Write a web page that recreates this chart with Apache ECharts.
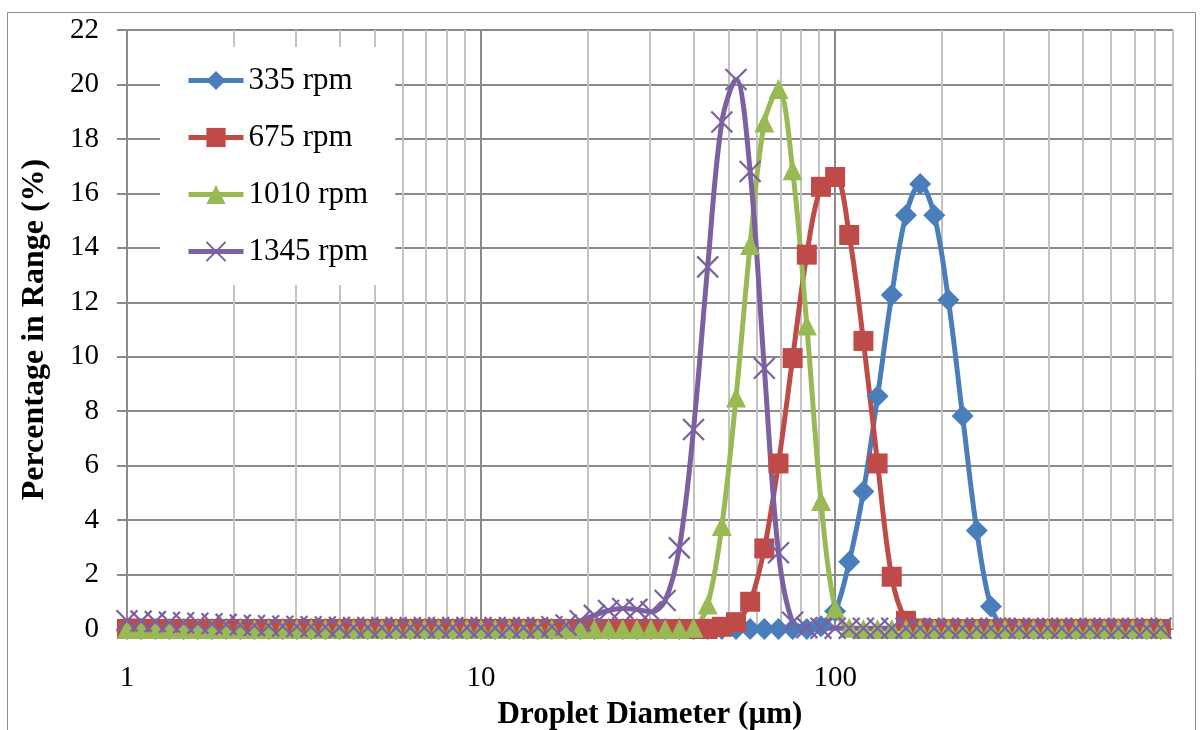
<!DOCTYPE html>
<html>
<head>
<meta charset="utf-8">
<script src="https://cdn.jsdelivr.net/npm/echarts@6/dist/echarts.min.js"></script>
<style>
  html, body { margin: 0; padding: 0; background: #ffffff; }
  #chart { width: 1203px; height: 730px; }
</style>
</head>
<body>
<div id="chart"></div>
<script>
// Size classes (µm), 25 per decade
const diameters = [
  1, 1.096, 1.202, 1.318, 1.445, 1.585, 1.738, 1.905, 2.089, 2.291,
  2.512, 2.754, 3.020, 3.311, 3.631, 3.981, 4.365, 4.786, 5.248, 5.754,
  6.310, 6.918, 7.586, 8.318, 9.120, 10, 10.96, 12.02, 13.18, 14.45,
  15.85, 17.38, 19.05, 20.89, 22.91, 25.12, 27.54, 30.20, 33.11, 36.31,
  39.81, 43.65, 47.86, 52.48, 57.54, 63.10, 69.18, 75.86, 83.18, 91.20,
  100, 109.6, 120.2, 131.8, 144.5, 158.5, 173.8, 190.5, 208.9, 229.1,
  251.2, 275.4, 302.0, 331.1, 363.1, 398.1, 436.5, 478.6, 524.8, 575.4,
  631.0, 691.8, 758.6, 831.8
];

// Percentage in range for each stirring speed
const rpm335 = [
  0, 0, 0, 0, 0, 0, 0, 0, 0, 0,
  0, 0, 0, 0, 0, 0, 0, 0, 0, 0,
  0, 0, 0, 0, 0, 0, 0, 0, 0, 0,
  0, 0, 0, 0, 0, 0, 0, 0, 0, 0,
  0, 0, 0, 0, 0, 0, 0, 0, 0, 0.1,
  0.65, 2.47, 5.05, 8.55, 12.27, 15.2, 16.34, 15.2, 12.08, 7.82,
  3.62, 0.83, 0.05, 0, 0, 0, 0, 0, 0, 0,
  0, 0, 0, 0
];
const rpm675 = [
  0, 0, 0, 0, 0, 0, 0, 0, 0, 0,
  0, 0, 0, 0, 0, 0, 0, 0, 0, 0,
  0, 0, 0, 0, 0, 0, 0, 0, 0, 0,
  0, 0, 0, 0, 0, 0, 0, 0, 0, 0,
  0, 0, 0.08, 0.25, 1.0, 2.96, 6.08, 9.95, 13.75, 16.24,
  16.6, 14.47, 10.58, 6.08, 1.92, 0.3, 0.02, 0, 0, 0,
  0, 0, 0, 0, 0, 0, 0, 0, 0, 0,
  0, 0, 0, 0
];
const rpm1010 = [
  0, 0, 0, 0, 0, 0, 0, 0, 0, 0,
  0, 0, 0, 0, 0, 0, 0, 0, 0, 0,
  0, 0, 0, 0, 0, 0, 0, 0, 0, 0,
  0, 0, 0, 0, 0, 0, 0, 0, 0, 0,
  0.05, 0.9, 3.78, 8.5, 14.1, 18.6, 19.83, 16.85, 11.15, 4.7,
  0.75, 0.05, 0, 0, 0, 0, 0, 0, 0, 0,
  0, 0, 0, 0, 0, 0, 0, 0, 0, 0,
  0, 0, 0, 0
];
const rpm1345 = [
  0.3, 0.29, 0.27, 0.25, 0.23, 0.21, 0.19, 0.17, 0.15, 0.13,
  0.12, 0.1, 0.09, 0.08, 0.07, 0.06, 0.05, 0.05, 0.05, 0.05,
  0.05, 0.05, 0.05, 0.05, 0.05, 0.05, 0.05, 0.05, 0.05, 0.05,
  0.08, 0.15, 0.3, 0.5, 0.68, 0.75, 0.72, 0.63, 1.05, 2.98,
  7.33, 13.3, 18.62, 20.18, 16.8, 9.58, 2.8, 0.25, 0.05, 0.03,
  0.03, 0.03, 0.03, 0.03, 0.03, 0.03, 0.03, 0.03, 0.03, 0.03,
  0.03, 0.03, 0.03, 0.03, 0.03, 0.03, 0.03, 0.03, 0.03, 0.03,
  0.03, 0.03, 0.03, 0.03
];

const seriesNames = ['335 rpm', '675 rpm', '1010 rpm', '1345 rpm'];
// Intermediate log gridlines (2..9 of each decade)
const minorGridValues = [2, 3, 4, 5, 6, 7, 8, 9, 20, 30, 40, 50, 60, 70, 80, 90,
  200, 300, 400, 500, 600, 700, 800, 900];

const FONT = 'Liberation Serif';
const AXIS_GRAY = '#8a8a8a';
const LINE_WIDTH = 5;

function pairs(values) {
  return diameters.map((d, i) => [d, values[i]]);
}

function makeSeries(name, values, color, symbol, symbolSize, itemStyle) {
  return {
    name: name,
    type: 'line',
    data: pairs(values),
    smooth: 0.35,
    clip: false,
    z: 3,
    symbol: symbol,
    symbolSize: symbolSize,
    showAllSymbol: true,
    lineStyle: { color: color, width: LINE_WIDTH },
    itemStyle: Object.assign({ color: color }, itemStyle || {}),
    emphasis: { disabled: true }
  };
}

const chart = echarts.init(document.getElementById('chart'), null, { renderer: 'canvas' });

chart.setOption({
  animation: false,
  backgroundColor: '#ffffff',
  graphic: [{
    type: 'rect',
    silent: true,
    z: -10,
    shape: { x: 7.5, y: 12.5, width: 1188, height: 740 },
    style: { fill: 'none', stroke: '#8c8c8c', lineWidth: 1 }
  }],
  grid: {
    left: 127, right: 30, top: 30, bottom: 101,
    containLabel: false,
    outerBoundsMode: 'none'
  },
  legend: {
    data: seriesNames,
    orient: 'vertical',
    left: 160,
    top: 47,
    z: 10,
    padding: [18, 27, 18, 26],
    itemGap: 26,
    itemWidth: 55,
    itemHeight: 24,
    backgroundColor: '#ffffff',
    selectedMode: false,
    lineStyle: { width: LINE_WIDTH },
    textStyle: { fontFamily: FONT, fontSize: 31, color: '#000000' }
  },
  xAxis: {
    type: 'log',
    logBase: 10,
    min: 1,
    max: 900,
    name: 'Droplet Diameter (µm)',
    nameLocation: 'middle',
    nameGap: 70,
    nameTextStyle: { fontFamily: FONT, fontSize: 31, fontWeight: 'bold', color: '#000000' },
    axisLine: { show: true, onZero: false, lineStyle: { color: AXIS_GRAY, width: 2 } },
    axisTick: { show: false },
    axisLabel: {
      fontFamily: FONT, fontSize: 29, color: '#000000', margin: 35,
      showMaxLabel: false
    },
    splitLine: { show: true, lineStyle: { color: AXIS_GRAY, width: 2 } }
  },
  yAxis: {
    type: 'value',
    min: 0,
    max: 22,
    interval: 2,
    name: 'Percentage in Range (%)',
    nameLocation: 'middle',
    nameGap: 76,
    nameTextStyle: { fontFamily: FONT, fontSize: 32, fontWeight: 'bold', color: '#000000' },
    axisLine: { show: true, lineStyle: { color: AXIS_GRAY, width: 2 } },
    axisTick: { show: true, length: 10, lineStyle: { color: AXIS_GRAY, width: 2 } },
    axisLabel: { fontFamily: FONT, fontSize: 29, color: '#000000', margin: 28 },
    splitLine: { show: true, lineStyle: { color: AXIS_GRAY, width: 2 } }
  },
  series: [
    {
      type: 'line',
      data: [],
      z: 1,
      silent: true,
      markLine: {
        z: 1,
        silent: true,
        animation: false,
        symbol: ['none', 'none'],
        label: { show: false },
        lineStyle: { color: '#c3c3c3', width: 2, type: 'solid' },
        emphasis: { disabled: true },
        data: minorGridValues.map(v => ({ xAxis: v }))
      }
    },
    makeSeries(seriesNames[0], rpm335, '#4A7EBB', 'diamond', 22),
    makeSeries(seriesNames[1], rpm675, '#BE4B48', 'rect', 20),
    makeSeries(seriesNames[2], rpm1010, '#98B954', 'triangle', 20),
    makeSeries(seriesNames[3], rpm1345, '#7D60A0', 'path://M0,0L20,20M20,0L0,20', 21,
      { borderColor: '#7D60A0', borderWidth: 2.2 })
  ]
});
</script>
</body>
</html>
